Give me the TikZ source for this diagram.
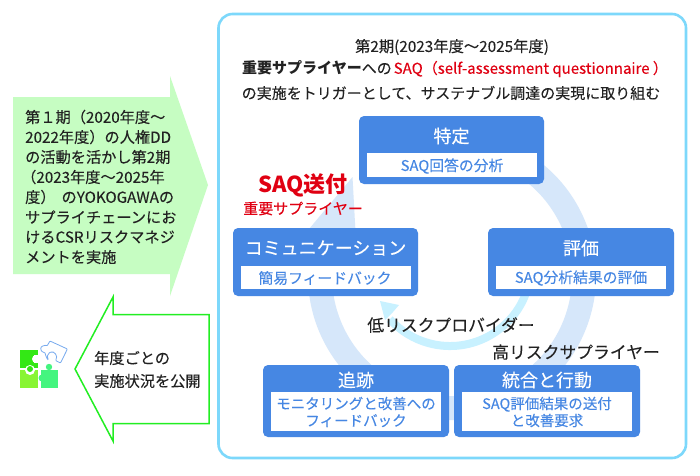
\documentclass[tikz,border=0pt]{standalone}
\usepackage{fontspec}
\setmainfont[FakeBold=0.12,BoldFeatures={FakeBold=0}]{Noto Sans CJK JP}
\definecolor{boxblue}{HTML}{4687E3}
\definecolor{ringblue}{HTML}{D6E7FA}
\definecolor{ringcyan}{HTML}{C8F1FF}
\definecolor{framecyan}{HTML}{7DD8FB}
\definecolor{paleg}{HTML}{C6FDC2}
\definecolor{lineg}{HTML}{22EE22}
\definecolor{inkk}{HTML}{222222}
\definecolor{redt}{HTML}{E00012}
\definecolor{pz1}{HTML}{33E815}
\definecolor{pz2}{HTML}{88F533}
\definecolor{pz3}{HTML}{44F57F}
\definecolor{pz4}{HTML}{77AAEE}
\newcommand{\fs}[1]{\fontsize{#1}{#1}\selectfont}
\tikzset{
 x=1pt,y=1pt,
 outerbox/.style={fill=boxblue,rounded corners=5pt,draw=none,inner sep=0pt},
 innerbox/.style={fill=white,draw=none,inner sep=0pt},
 title/.style={text=white,font=\fs{18},inner sep=0pt},
 sub/.style={text=boxblue,font=\fs{14.8},inner sep=0pt,align=center},
 subtwo/.style={text=boxblue,font=\fontsize{14.5}{17}\selectfont,inner sep=0pt,align=center},
 lefttext/.style={text=inkk,font=\fs{15.2},inner sep=0pt,anchor=west},
 toptext/.style={text=inkk,font=\fs{15},inner sep=0pt},
 risk/.style={text=inkk,font=\fs{16.8},inner sep=0pt},
}
\begin{document}
\begin{tikzpicture}
\useasboundingbox (0,0) rectangle (700,-475);
\fill[white] (0,0) rectangle (700,-475);
% frame
\draw[framecyan,line width=2.6pt,rounded corners=14pt] (218.5,-14) rectangle (686,-458);
% large ring
\draw[ringblue,line width=24pt] (452,-276) ++(70:132pt) arc[start angle=70,end angle=-195,radius=132pt];
\fill[ringblue] (352.5,-177) -- (299,-241) -- (356,-241) -- cycle;
% small ring
\draw[ringcyan,line width=8pt] (450,-265) ++(-15:81pt) arc[start angle=-15,end angle=-138,radius=81pt];
\fill[ringcyan] (380,-301) -- (399,-305) -- (393,-312) -- (385,-320) -- cycle;
% left arrows
\fill[paleg] (13,-97) -- (170,-97) -- (170,-76) -- (208,-185) -- (170,-296) -- (170,-274) -- (13,-274) -- cycle;
\draw[lineg,line width=1.5pt] (75,-369) -- (113,-297) -- (113,-314.5) -- (209,-314.5) -- (209,-423.5) -- (113,-423.5) -- (113,-441) -- cycle;
% left text
\node[lefttext] (l1) at (25,-117) {第１期（2020年度～};
\node[lefttext] (l2) at (25,-137) {2022年度）の人権DD};
\node[lefttext] (l3) at (25,-157) {の活動を活かし第2期};
\node[lefttext] (l4) at (21,-177) {（2023年度～2025年};
\node[lefttext] (l5) at (25,-197) {度）\hspace{6pt}のYOKOGAWAの};
\node[lefttext] (l6) at (25,-217) {サプライチェーンにお};
\node[lefttext] (l7) at (25,-237) {けるCSRリスクマネジ};
\node[lefttext] (l8) at (25,-257) {メントを実施};
\node[lefttext] (p1) at (94,-358) {年度ごとの};
\node[lefttext] (p2) at (94,-381) {実施状況を公開};
% puzzle
\fill[pz1] (20,-350) rectangle (38,-368);
\fill[white] (36,-359) circle (4pt);
\fill[white] (34,-355) rectangle (40,-363);
\fill[pz2] (20,-370) rectangle (38,-388);
\fill[white] (30,-370) circle (5pt);
\fill[pz1] (30,-369) circle (3pt);
\fill[pz3] (41,-370) rectangle (58,-388);
\fill[pz3] (49,-367) circle (3.2pt);
\fill[pz3] (42,-378) circle (3.5pt);
\fill[pz2] (36.5,-375) rectangle (38,-383);
\draw[pz4,line width=0.8pt,rounded corners=0.8pt]
  (50,-341) -- (67.4,-349) -- (60.5,-363) -- (55.5,-360.5)
  .. controls (58.5,-356) and (54,-350.5) .. (50,-352.5)
  .. controls (47,-354) and (47,-357.5) .. (48.5,-360)
  .. controls (46.5,-358.5) and (45,-353) .. (44.5,-352.5)
  .. controls (41,-352) and (40,-348) .. (42,-346.5)
  .. controls (44,-345) and (46.5,-345.5) .. (47,-346) -- cycle;
% top text
\node[toptext,font=\fs{15.3}] (t1) at (452,-47) {第2期(2023年度～2025年度)};
\node[toptext,anchor=west] (t2) at (242,-69) {\textbf{重要サプライヤー}への\hspace{2pt}\textcolor{redt}{SAQ（self-assessment questionnaire ）}};
\node[toptext] (t3) at (451,-93) {の実施をトリガーとして、サステナブル調達の実現に取り組む};
% boxes
\fill[outerbox] (359,-116) rectangle (544,-184);
\fill[outerbox] (233,-228) rectangle (418,-296);
\fill[outerbox] (488,-228) rectangle (674,-296);
\fill[outerbox] (263,-365) rectangle (449,-437);
\fill[outerbox] (454,-365) rectangle (640,-437);
\fill[innerbox] (367,-153) rectangle (537,-177);
\fill[innerbox] (241,-266) rectangle (411,-289);
\fill[innerbox] (496,-266) rectangle (666,-289);
\fill[innerbox] (271,-392) rectangle (441,-431);
\fill[innerbox] (462,-392) rectangle (632,-431);
\node[title] (a1) at (451.5,-136) {特定};
\node[sub] (a2) at (452,-166) {SAQ回答の分析};
\node[title] (b1) at (325.5,-248) {コミュニケーション};
\node[sub] (b2) at (325,-278) {簡易フィードバック};
\node[title] (c1) at (581,-248) {評価};
\node[sub] (c2) at (581,-278) {SAQ分析結果の評価};
\node[title] (d1) at (356,-380) {追跡};
\node[subtwo] (d2) at (356,-412) {モニタリングと改善への\\フィードバック};
\node[title] (e1) at (547,-380) {統合と行動};
\node[subtwo] (e2) at (547,-412) {SAQ評価結果の送付\\と改善要求};
% labels
\node[text=redt,font=\bfseries\fs{22},inner sep=0pt] (s1) at (303,-185) {SAQ送付};
\node[text=redt,font=\fs{15},inner sep=0pt] (s2) at (303,-208.5) {重要サプライヤー};
\node[risk] (r1) at (451,-325) {低リスクプロバイダー};
\node[risk] (r2) at (576,-352) {高リスクサプライヤー};
\end{tikzpicture}
\end{document}
